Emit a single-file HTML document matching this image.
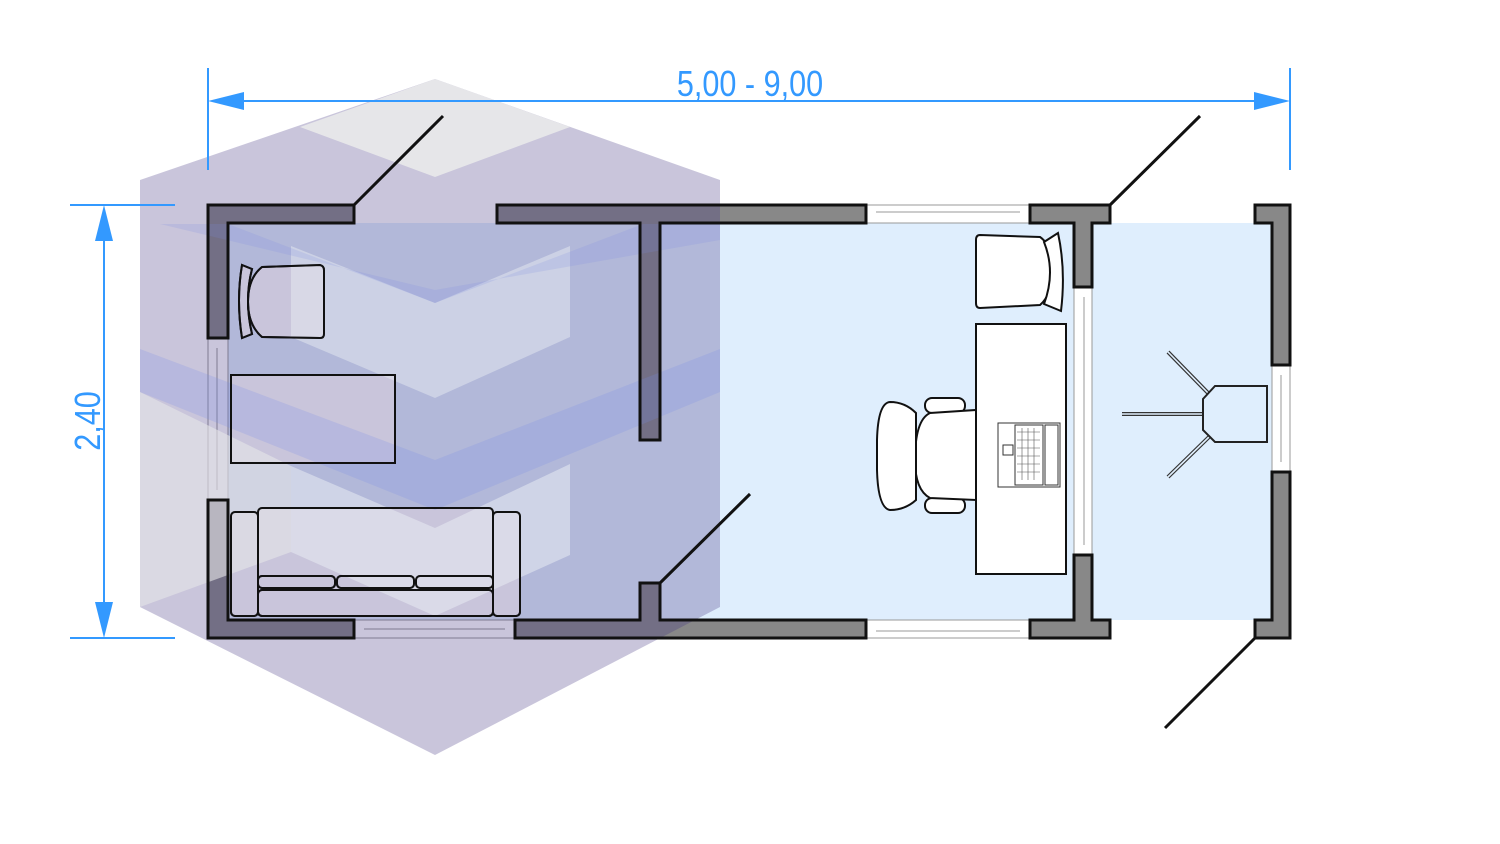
<!DOCTYPE html>
<html><head><meta charset="utf-8"><style>
html,body{margin:0;padding:0;background:#fff;}
svg{display:block;}
text{font-family:"Liberation Sans",sans-serif;}
</style></head><body>
<svg width="1500" height="844" viewBox="0 0 1500 844" xmlns="http://www.w3.org/2000/svg">
<defs>
<g id="walls">
<polygon points="208,205 354,205 354,223 228,223 228,338 208,338"/>
<polygon points="497,205 866,205 866,223 660,223 660,440 640,440 640,223 497,223"/>
<polygon points="1030,205 1110,205 1110,223 1092,223 1092,287 1074,287 1074,223 1030,223"/>
<polygon points="1255,205 1290,205 1290,365 1272,365 1272,223 1255,223"/>
<polygon points="208,500 228,500 228,620 354,620 354,638 208,638"/>
<polygon points="515,620 640,620 640,583 660,583 660,620 866,620 866,638 515,638"/>
<polygon points="1074,555 1092,555 1092,620 1110,620 1110,638 1030,638 1030,620 1074,620"/>
<polygon points="1272,472 1290,472 1290,638 1255,638 1255,620 1272,620"/>
</g>
<g id="lfurn">
<path d="M252,269 L242,265 Q236,300 242,338 L252,334 Q244,300 252,269Z"/>
<path d="M262,267 L320,265 Q324,266 324,270 L324,334 Q324,338 320,338 L262,337 Q248,325 248,302 Q248,278 262,267Z"/>
<rect x="231" y="375" width="164" height="88"/>
<rect x="231" y="512" width="27" height="104" rx="4"/>
<rect x="493" y="512" width="27" height="104" rx="4"/>
<rect x="258" y="508" width="235" height="108" rx="4"/>
<rect x="258" y="576" width="77" height="12" rx="4"/>
<rect x="337" y="576" width="77" height="12" rx="4"/>
<rect x="416" y="576" width="77" height="12" rx="4"/>
<rect x="258" y="590" width="235" height="26" rx="4"/>
</g>
</defs>
<!-- floors -->
<rect x="228" y="223" width="846" height="397" fill="#dfeefd"/>
<rect x="1092" y="223" width="180" height="397" fill="#dfeefd"/>

<!-- windows -->
<g fill="#fff" stroke="#999" stroke-width="1">
<rect x="866" y="205" width="164" height="18"/><line x1="876" y1="212" x2="1020" y2="212"/>
<rect x="866" y="620" width="164" height="18"/><line x1="876" y1="631" x2="1020" y2="631"/>
<rect x="354" y="620" width="161" height="18"/><line x1="364" y1="629" x2="505" y2="629"/>
<rect x="208" y="338" width="20" height="162"/><line x1="217" y1="348" x2="217" y2="490"/>
<rect x="1074" y="287" width="18" height="268"/><line x1="1084" y1="297" x2="1084" y2="545"/>
<rect x="1272" y="365" width="18" height="107"/><line x1="1281" y1="375" x2="1281" y2="462"/>
</g>

<use href="#walls" fill="#888" stroke="#111" stroke-width="3"/>
<use href="#lfurn" fill="#fff" stroke="#111" stroke-width="2"/>

<!-- right furniture -->
<g fill="#fff" stroke="#111" stroke-width="2">
<path d="M980,235 L1040,237 Q1052,245 1052,270 Q1052,295 1040,305 L980,308 Q976,308 976,303 L976,240 Q976,235 980,235Z"/>
<path d="M1044,242 L1058,233 Q1066,270 1061,311 L1044,304 Q1056,272 1044,242Z"/>
<rect x="976" y="324" width="90" height="250"/>
<rect x="925" y="398" width="40" height="15" rx="7"/>
<rect x="925" y="498" width="40" height="15" rx="7"/>
<path d="M930,413 L976,410 L976,500 L930,498 Q915,490 915,460 Q915,420 930,413Z"/>
<path d="M890,402 Q905,402 916,413 L916,500 Q905,510 890,510 Q878,508 877,470 L877,440 Q878,403 890,402Z"/>
</g>
<g fill="#fff" stroke="#333" stroke-width="1">
<rect x="998" y="423" width="62" height="64"/>
<rect x="1015" y="425" width="28" height="60"/>
<rect x="1045" y="425" width="13" height="60"/>
<rect x="1003" y="445" width="10" height="10"/>
</g>
<g stroke="#555" stroke-width="0.6">
<line x1="1017" y1="432" x2="1040" y2="432"/><line x1="1017" y1="440" x2="1040" y2="440"/><line x1="1017" y1="448" x2="1040" y2="448"/><line x1="1017" y1="456" x2="1040" y2="456"/><line x1="1017" y1="464" x2="1040" y2="464"/><line x1="1017" y1="472" x2="1040" y2="472"/>
<line x1="1022" y1="428" x2="1022" y2="480"/><line x1="1028" y1="428" x2="1028" y2="480"/><line x1="1034" y1="428" x2="1034" y2="480"/>
</g>
<!-- tripod -->
<g fill="none" stroke="#333" stroke-width="4"><line x1="1168" y1="352" x2="1210" y2="395"/><line x1="1122" y1="414" x2="1202" y2="414"/><line x1="1168" y1="477" x2="1210" y2="436"/></g>
<g fill="none" stroke="#dfeefd" stroke-width="1.6"><line x1="1168" y1="352" x2="1210" y2="395"/><line x1="1122" y1="414" x2="1202" y2="414"/><line x1="1168" y1="477" x2="1210" y2="436"/></g>
<polygon points="1215,386 1267,386 1267,442 1215,442 1203,430 1203,399" fill="#dfeefd" stroke="#222" stroke-width="2"/>

<!-- cube overlay -->
<polygon points="435,79 720,180 720,607 435,755 140,607 140,180" fill="rgba(60,45,125,0.28)"/>
<polygon points="300,127 435,79 570,127 435,177" fill="rgba(232,232,234,0.95)"/>
<polygon points="291,246 435,303 570,246 570,337 435,398 291,337" fill="rgba(235,240,245,0.45)"/>
<polygon points="291,466 435,528 570,464 570,555 435,616 291,552" fill="rgba(235,240,245,0.5)"/>
<polygon points="140,392 291,466 291,552 140,607" fill="rgba(230,230,232,0.6)"/>
<polygon points="228,224 435,303 643,224 720,224 720,240 435,290 160,224" fill="rgba(120,140,230,0.18)"/>
<polygon points="140,392 435,510 720,392 720,349 435,460 140,349" fill="rgba(120,140,230,0.22)"/>

<!-- outlines above overlay -->
<use href="#walls" fill="none" stroke="#111" stroke-width="3"/>
<use href="#lfurn" fill="none" stroke="#111" stroke-width="2"/>

<!-- door swing lines -->
<g stroke="#111" stroke-width="3">
<line x1="354" y1="205" x2="443" y2="116"/>
<line x1="1110" y1="205" x2="1200" y2="116"/>
<line x1="660" y1="583" x2="750" y2="494"/>
<line x1="1255" y1="638" x2="1165" y2="728"/>
</g>

<!-- dimensions -->
<g stroke="#3399ff" stroke-width="2" fill="#3399ff">
<line x1="208" y1="68" x2="208" y2="170"/>
<line x1="1290" y1="68" x2="1290" y2="170"/>
<line x1="235" y1="101" x2="1263" y2="101"/>
<polygon points="208,101 244,92 244,110" stroke="none"/>
<polygon points="1290,101 1254,92 1254,110" stroke="none"/>
<line x1="70" y1="205" x2="175" y2="205"/>
<line x1="70" y1="638" x2="175" y2="638"/>
<line x1="104" y1="230" x2="104" y2="612"/>
<polygon points="104,205 95,241 113,241" stroke="none"/>
<polygon points="104,638 95,602 113,602" stroke="none"/>
</g>
<text x="750" y="96" font-size="36" fill="#3399ff" text-anchor="middle" transform="translate(750 0) scale(0.85 1) translate(-750 0)">5,00 - 9,00</text>
<text x="0" y="0" font-size="36" fill="#3399ff" text-anchor="middle" transform="translate(100 421) rotate(-90) scale(0.85 1)">2,40</text>
</svg>
</body></html>
